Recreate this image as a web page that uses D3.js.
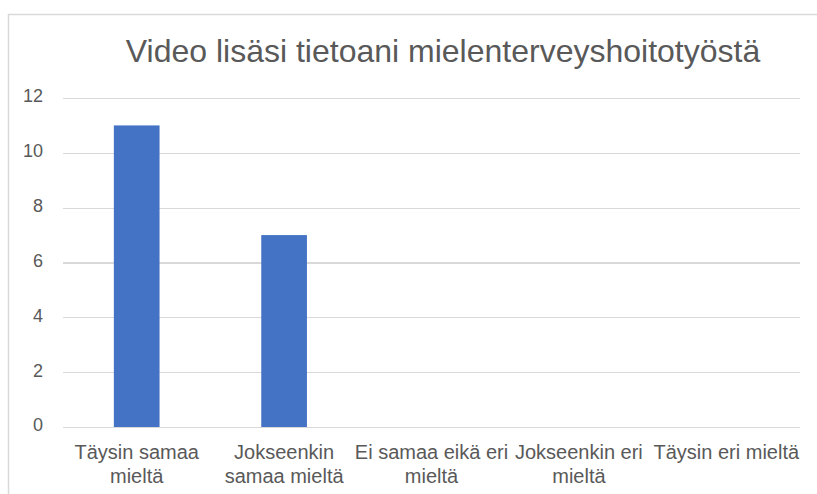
<!DOCTYPE html>
<html>
<head>
<meta charset="utf-8">
<script src="https://cdn.jsdelivr.net/npm/d3@7"></script>
<style>
  html, body { margin: 0; padding: 0; background: #ffffff; }
  svg { display: block; }
</style>
</head>
<body>
<svg id="chart" width="817" height="494"></svg>
<script>
// Survey responses: "Video lisäsi tietoani mielenterveyshoitotyöstä"
const title = "Video lisäsi tietoani mielenterveyshoitotyöstä";
const categories = [
  "Täysin samaa mieltä",
  "Jokseenkin samaa mieltä",
  "Ei samaa eikä eri mieltä",
  "Jokseenkin eri mieltä",
  "Täysin eri mieltä"
];
// Wrapped axis label lines, one list per category
const categoryLines = [
  ["Täysin samaa", "mieltä"],
  ["Jokseenkin", "samaa mieltä"],
  ["Ei samaa eikä eri", "mieltä"],
  ["Jokseenkin eri", "mieltä"],
  ["Täysin eri mieltä"]
];
const values = [11, 7, 0, 0, 0];
const yTicks = [0, 2, 4, 6, 8, 10, 12];

const svg = d3.select("#chart");
const font = "'Liberation Sans', Arial, Helvetica, sans-serif";
const textColor = "#595959";
const gridColor = "#d9d9d9";
const barColor = "#4472C4";

// Outer chart frame (extends past the right and bottom edges)
svg.append("rect")
  .attr("x", 8.5).attr("y", 14.5)
  .attr("width", 830).attr("height", 500)
  .attr("fill", "none")
  .attr("stroke", gridColor)
  .attr("stroke-width", 1.5);

const plot = { left: 63, right: 800, top: 98, bottom: 427 };

const x = d3.scaleBand()
  .domain(categories)
  .range([plot.left, plot.right])
  .paddingInner(0)
  .paddingOuter(0);

const y = d3.scaleLinear()
  .domain([0, 12])
  .range([plot.bottom, plot.top]);

// Horizontal gridlines and value labels
const yAxis = d3.axisLeft(y)
  .tickValues(yTicks)
  .tickSize(-(plot.right - plot.left))
  .tickPadding(20)
  .tickFormat(d3.format("d"));

const gy = svg.append("g")
  .attr("transform", `translate(${plot.left},0)`)
  .call(yAxis);
gy.select(".domain").remove();
gy.selectAll(".tick line")
  .attr("stroke", gridColor)
  .attr("stroke-width", 1.2)
  .attr("shape-rendering", "crispEdges");
gy.selectAll(".tick text")
  .attr("fill", textColor)
  .attr("font-family", font)
  .attr("font-size", 18)
  .attr("dy", "0.22em");

// Bars
const barWidth = x.bandwidth() * 0.31;
svg.append("g")
  .selectAll("rect")
  .data(values)
  .join("rect")
  .attr("x", (d, i) => x(categories[i]) + (x.bandwidth() - barWidth) / 2)
  .attr("y", d => y(d))
  .attr("width", barWidth)
  .attr("height", d => y(0) - y(d))
  .attr("fill", barColor);

// Category labels (two-line wrap)
const labels = svg.append("g")
  .attr("font-family", font)
  .attr("font-size", 20)
  .attr("fill", textColor)
  .attr("text-anchor", "middle");

categoryLines.forEach((lines, i) => {
  const cx = x(categories[i]) + x.bandwidth() / 2;
  const t = labels.append("text")
    .attr("x", cx)
    .attr("y", 459);
  lines.forEach((line, j) => {
    t.append("tspan")
      .attr("x", cx)
      .attr("dy", j === 0 ? 0 : 24)
      .text(line);
  });
});

// Title
svg.append("text")
  .attr("x", 443)
  .attr("y", 62)
  .attr("text-anchor", "middle")
  .attr("font-family", font)
  .attr("font-size", 32)
  .attr("fill", textColor)
  .text(title);
</script>
</body>
</html>
